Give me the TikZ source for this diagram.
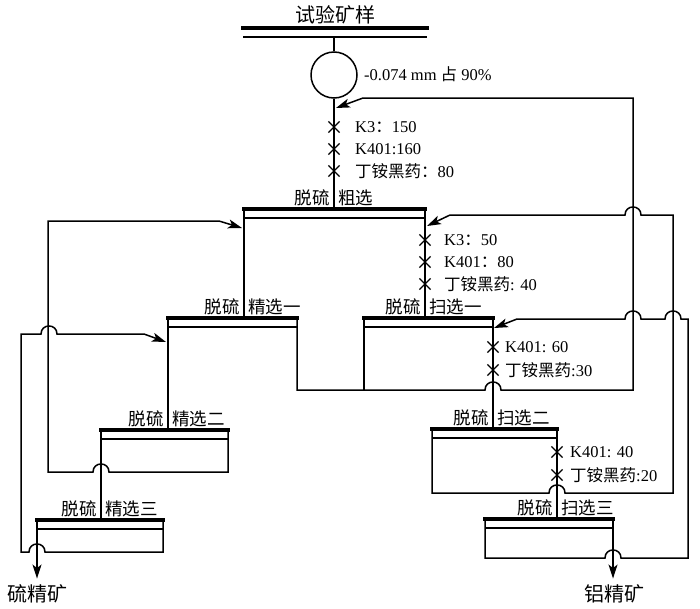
\documentclass[tikz,border=0pt]{standalone}
\usepackage{fontspec}
\setmainfont{Liberation Serif}
\newfontfamily\cjk{Noto Sans CJK SC}
\newcommand{\zh}[1]{{\cjk #1}}
\usetikzlibrary{arrows.meta,shapes.misc}

\begin{document}
\begin{tikzpicture}
		[x=1pt,y=-1pt,
		ln/.style={line width=1.5pt},
		bar/.style={line width=3.4pt,line cap=rect},
		t/.style={inner sep=0pt,font=\fontsize{16.5}{17}\selectfont},
		tc/.style={inner sep=0pt,font=\fontsize{17.5}{18}\selectfont},
		tb/.style={inner sep=0pt,font=\fontsize{20}{21}\selectfont},
		xm/.style={cross out,draw,line width=1.2pt,minimum size=10pt,inner sep=0pt},
		ar/.style={-{Stealth[length=14pt,width=9pt,inset=3.5pt]}}]

		\useasboundingbox (0,0) rectangle (700,608);

		% feed and grinding
		\node[tb] (ore) at (335,15) {\zh{试验矿样}}
		;
		\draw[bar] (243,28) -- (427,28);
		\draw[ln] (243,37) -- (427,37);
		\coordinate (ore-b) at (334,37);

		\node[ln,circle,draw,minimum size=46pt,inner sep=0pt] (mill) at (334,75) {}
			edge [ln]	(ore-b)
		;
		\node[t,anchor=west] (mesh) at (364,74) {-0.074 mm \zh{占} 90\%}
		;

		% cells
		\foreach \n/\l/\r/\t/\f/\s in {ro/244/425/209/334/粗选, c1/168/297/318/244/精选一,
			s1/364/493/318/425/扫选一, c2/101/228/430/168/精选二, c3/37/163/520/101/精选三,
			s2/432/557/429/493/扫选二, s3/485/613/519/557/扫选三}
		{
			\coordinate (\n-l) at (\l,\t);
			\coordinate (\n-r) at (\r,\t);
			\coordinate (\n-f) at (\f,\t);
			\draw[ln] (\l,\t+9) -- (\r,\t+9);
			\draw[bar] (\n-l) -- (\n-r);
			\node[tc,anchor=south east] (\n-a) at (\f-4,\t-3) {\zh{脱硫}};
			\node[tc,anchor=south west] (\n-b) at (\f+4,\t-3) {\zh{\s}};
		}

		% reagents
		\foreach \x/\y/\lx/\s in {334/127/355/{K3\zh{：}150}, 334/149/355/{K401:160},
			334/171/355/{\zh{丁铵黑药：}80}, 425/240/444/{K3\zh{：}50},
			425/262/444/{K401\zh{：}80}, 425/284/444/{\zh{丁铵黑药}: 40},
			493/347/505/{K401: 60}, 493/370/505/{\zh{丁铵黑药}:30},
			557/452/570/{K401: 40}, 557/475/570/{\zh{丁铵黑药}:20}}
		{
			\node[xm] (m\x-\y) at (\x,\y) {};
			\node[t,anchor=west] (r\x-\y) at (\lx,\y) {\s};
		}

		% main stream
		\draw[ln] (mill) -- (ro-f);
		\draw[ln] (ro-l) -- (c1-f);
		\draw[ln] (ro-r) -- (s1-f);
		\draw[ln] (c1-l) -- (c2-f);
		\draw[ln] (c2-l) -- (c3-f);
		\draw[ln] (s1-r) -- (s2-f);
		\draw[ln] (s2-r) -- (s3-f);

		% products
		\node[tb] (scon) at (37,594) {\zh{硫精矿}}
		;
		\node[tb] (acon) at (614,594) {\zh{铝精矿}}
		;
		\draw[ln,ar,shorten >=6pt] (c3-l) -- (c3-l |- scon.north);
		\draw[ln,ar,shorten >=6pt] (s3-r) -- (s3-r |- acon.north);

		% middlings
		\draw[ln,ar] (c1-r) -- (297,390) -- (485,390) .. controls (485,379.3) and (501,379.3) .. (501,390)
			-- (633,390) -- (633,98) -- (363,98) -- (336,108);
		\draw[ln] (s1-l) -- (364,390);

		\draw[ln,ar] (c2-r) -- (228,472) -- (109,472) .. controls (109,461.3) and (93,461.3) .. (93,472)
			-- (48,472) -- (48,221) -- (219,221) -- (242,228);

		\draw[ln,ar] (c3-r) -- (163,552) -- (45,552) .. controls (45,541.3) and (29,541.3) .. (29,552)
			-- (21,552) -- (21,334) -- (41,334) .. controls (41,323.3) and (57,323.3) .. (57,334)
			-- (144,334) -- (166,342);

		\draw[ln,ar] (s2-l) -- (432,493) -- (549,493) .. controls (549,482.3) and (565,482.3) .. (565,493)
			-- (673,493) -- (673,215) -- (641,215) .. controls (641,204.3) and (625,204.3) .. (625,215)
			-- (450,215) -- (427,226);

		\draw[ln,ar] (s3-l) -- (485,558) -- (605,558) .. controls (605,547.3) and (621,547.3) .. (621,558)
			-- (688,558) -- (688,319) -- (681,319) .. controls (681,308.3) and (665,308.3) .. (665,319)
			-- (641,319) .. controls (641,308.3) and (625,308.3) .. (625,319)
			-- (517,319) -- (494,328);

	\end{tikzpicture}
\end{document}
